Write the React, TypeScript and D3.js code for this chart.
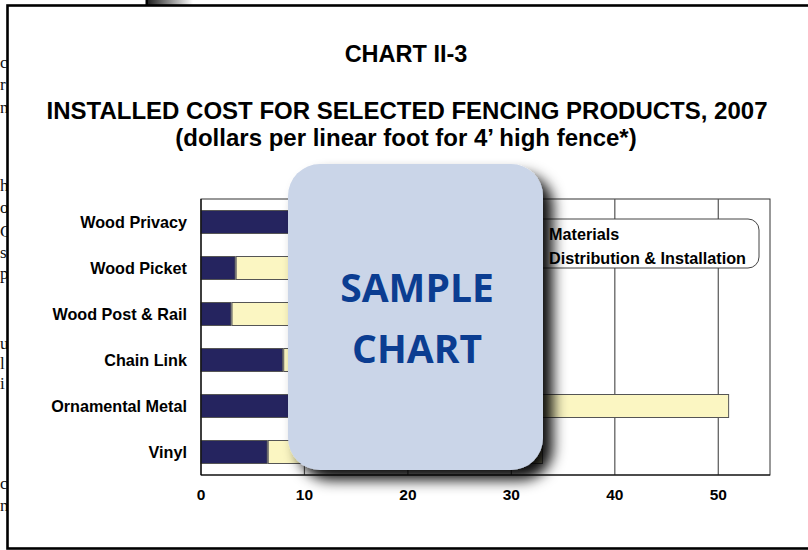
import React from "react";
import * as d3 from "d3";

const categories = ["Wood Privacy", "Wood Picket", "Wood Post & Rail", "Chain Link", "Ornamental Metal", "Vinyl"];
const materials = [13, 3.3, 2.9, 7.9, 24, 6.4];
const distribution = [9, 11.5, 8, 4.5, 27, 26.6];
const tickValues = [0, 10, 20, 30, 40, 50];
const seriesNames = ["Materials", "Distribution & Installation"];
const seriesColors = ["#25245f", "#fbf6c2"];
const titleLines = ["CHART II-3", "INSTALLED COST FOR SELECTED FENCING PRODUCTS, 2007", "(dollars per linear foot for 4\u2019 high fence*)"];
const sideLetters = ["c", "r", "n", "h", "o", "C", "s", "p", "u", "l", "i", "c", "n"];
const sideBaselines = [68, 90, 113, 191, 213, 237, 258, 279, 349, 369, 389, 489, 511];

export default function App() {
  const W = 808, H = 550;
  const x = d3.scaleLinear().domain([0, 55]).range([201, 770]);
  const y = d3.scaleBand<string>().domain(categories).range([199, 475]).paddingInner(0.5).paddingOuter(0.25);
  const sans = "'Liberation Sans', Arial, sans-serif";
  return (
    <svg width={W} height={H} style={{ position: "absolute", left: 0, top: 0, background: "#fff" }}>
      <defs>
        <linearGradient id="topgrad" x1="0" x2="1" y1="0" y2="0">
          <stop offset="0" stopColor="#222" />
          <stop offset="1" stopColor="#fff" />
        </linearGradient>
        <filter id="shadow" x="-20%" y="-20%" width="150%" height="150%">
          <feDropShadow dx="10" dy="10" stdDeviation="7" floodColor="#000" floodOpacity="0.95" />
        </filter>
      </defs>
      {/* background document fragments */}
      {sideLetters.map((c, i) => (
        <text key={i} x={0} y={sideBaselines[i]} fontFamily="'Liberation Serif', serif" fontSize={17} fill="#111">{c}</text>
      ))}
      <rect x={148} y={0} width={45} height={5} fill="url(#topgrad)" />
      <rect x={145.5} y={0} width={2.5} height={5} fill="#000" />
      {/* frame */}
      <rect x={7.5} y={5.5} width={830} height={543} fill="#fff" stroke="#000" strokeWidth={2.6} />
      {/* titles */}
      <text x={406} y={62} textAnchor="middle" fontFamily={sans} fontWeight="bold" fontSize={23.5} fill="#000">{titleLines[0]}</text>
      <text x={407} y={119} textAnchor="middle" fontFamily={sans} fontWeight="bold" fontSize={24} fill="#000">{titleLines[1]}</text>
      <text x={406} y={146} textAnchor="middle" fontFamily={sans} fontWeight="bold" fontSize={24} fill="#000">{titleLines[2]}</text>
      {/* plot area */}
      <rect x={x(0)} y={199} width={x(55) - x(0)} height={276} fill="#fff" stroke="#333" strokeWidth={1} />
      {tickValues.filter(t => t > 0).map(t => (
        <line key={t} x1={x(t)} x2={x(t)} y1={199} y2={475} stroke="#555" strokeWidth={1.2} />
      ))}
      {categories.map((c, i) => {
        const yy = y(c)!;
        const bh = y.bandwidth();
        return (
          <g key={c}>
            <rect x={x(0)} y={yy} width={x(materials[i]) - x(0)} height={bh} fill={seriesColors[0]} stroke="#555" strokeWidth={1} />
            <rect x={x(materials[i]) + 1} y={yy} width={x(materials[i] + distribution[i]) - x(materials[i]) - 1} height={bh} fill={seriesColors[1]} stroke="#555" strokeWidth={1} />
            <text x={187} y={yy + bh / 2 + 6} textAnchor="end" fontFamily={sans} fontWeight="bold" fontSize={16.2} fill="#000">{c}</text>
          </g>
        );
      })}
      <line x1={x(0)} x2={x(0)} y1={199} y2={475} stroke="#000" strokeWidth={1.2} />
      <line x1={x(0)} x2={x(55)} y1={475} y2={475} stroke="#000" strokeWidth={1.2} />
      {tickValues.map(t => (
        <text key={t} x={x(t)} y={500} textAnchor="middle" fontFamily={sans} fontWeight="bold" fontSize={15.5} fill="#000">{t}</text>
      ))}
      {/* legend */}
      <rect x={480} y={219} width={279} height={49} rx={11} fill="#fff" stroke="#444" strokeWidth={1} />
      {seriesNames.map((s, i) => (
        <g key={s}>
          <rect x={500} y={228 + i * 24} width={14} height={12} fill={seriesColors[i]} stroke="#555" />
          <text x={549} y={240 + i * 24} fontFamily={sans} fontWeight="bold" fontSize={16.2} fill="#000">{s}</text>
        </g>
      ))}
      {/* sample overlay */}
      <rect x={288} y={164} width={255} height={306} rx={32} fill="#cad5e8" filter="url(#shadow)" />
      <text x={417} y={302} textAnchor="middle" fontFamily="'Open Sans', sans-serif" fontWeight="bold" fontSize={39} fill="#0b3d91">SAMPLE</text>
      <text x={417} y={363} textAnchor="middle" fontFamily="'Open Sans', sans-serif" fontWeight="bold" fontSize={39} fill="#0b3d91">CHART</text>
    </svg>
  );
}
